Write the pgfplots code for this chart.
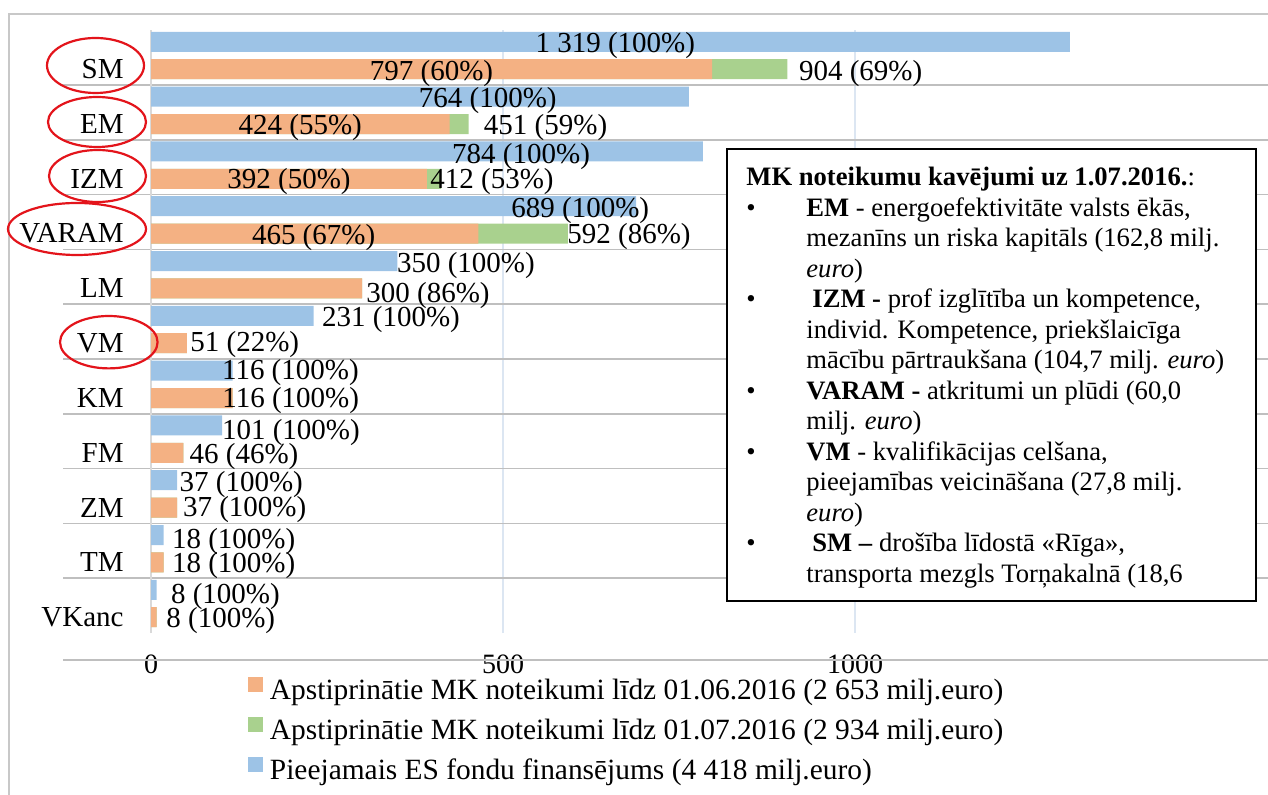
\documentclass[border=0pt]{standalone}
\usepackage{fontspec}
\setmainfont{Liberation Serif}
\usepackage{pgfplots}
\pgfplotsset{compat=1.18}
\definecolor{bblue}{HTML}{9DC3E6}
\definecolor{borange}{HTML}{F4B183}
\definecolor{bgreen}{HTML}{A9D18E}
\definecolor{sepgrey}{HTML}{BFBFBF}
\definecolor{gridblue}{HTML}{DCE6F2}
\definecolor{axgrey}{HTML}{D9D9D9}
\definecolor{framegrey}{HTML}{C8C8C8}
\definecolor{ered}{HTML}{E3141B}
\tikzset{lbl/.style={font=\fontsize{14.5pt}{17pt}\selectfont, inner sep=0pt}}
\begin{document}
\begin{tikzpicture}[x=0.5pt,y=-0.5pt]
\path[use as bounding box] (0,0) rectangle (1268,795);
\draw[framegrey, line width=0.75pt] (9,795) -- (9,14) -- (1268,14);
\begin{axis}[
  at={(31.5pt,-316.5pt)}, anchor=south west,
  scale only axis, width=602.5pt, height=301.4pt,
  xmin=-125, xmax=1586.6, ymin=-0.5, ymax=10.5,
  axis line style={draw=none}, tick style={draw=none},
  major tick length=0pt, minor tick length=0pt,
  /pgf/number format/assume math mode=true,
  xtick={500,1000}, xticklabels={500,1000},
  extra x ticks={0}, extra x tick labels={0},
  extra x tick style={grid style={draw=axgrey, line width=0.75pt}},
  xmajorgrids, grid style={draw=gridblue, line width=0.75pt},
  xticklabel style={anchor=center, yshift=-15.5pt, font=\fontsize{14pt}{16pt}\selectfont},
  ytick={9.788,8.788,7.788,6.788,5.788,4.788,3.788,2.788,1.788,0.788,-0.212},
  yticklabels={SM,EM,IZM,VARAM,LM,VM,KM,FM,ZM,TM,VKanc},
  yticklabel style={anchor=east, xshift=30.5pt, inner sep=0pt, font=\fontsize{14.5pt}{17pt}\selectfont},
  minor ytick={0.5,1.5,2.5,3.5,4.5,5.5,6.5,7.5,8.5,9.5},
  yminorgrids, minor grid style={draw=sepgrey, line width=0.75pt},
  clip=false,
  legend style={at={(axis description cs:0.1535,-0.073)}, anchor=north west,
    draw=none, fill=none, inner sep=0pt, outer sep=0pt,
    font=\fontsize{14.7pt}{17pt}\selectfont, row sep=5.5pt,
    nodes={inner sep=0pt, text height=10.5pt, text depth=3.5pt},
    /tikz/every odd column/.style={column sep=3.5pt}},
  legend cell align=left,
  legend image code/.code={\fill[#1, draw=none] (0pt,0pt) rectangle (7.5pt,7.5pt);},
]
% green: approved until 01.07.2016 (drawn under orange)
\addplot[xbar, bar width=0.365, bar shift=0pt, fill=bgreen, draw=none, forget plot] coordinates {
 (904,9.788) (451,8.788) (412,7.788) (592,6.788) (300,5.788) (51,4.788)
 (116,3.788) (46,2.788) (37,1.788) (18,0.788) (8,-0.212)};
% orange: approved until 01.06.2016
\addplot[xbar, bar width=0.365, bar shift=0pt, fill=borange, draw=none, forget plot] coordinates {
 (797,9.788) (424,8.788) (392,7.788) (465,6.788) (300,5.788) (51,4.788)
 (116,3.788) (46,2.788) (37,1.788) (18,0.788) (8,-0.212)};
% blue: available EU funds
\addplot[xbar, bar width=0.365, bar shift=0pt, fill=bblue, draw=none, forget plot] coordinates {
 (1305,10.288) (764,9.288) (784,8.288) (689,7.288) (350,6.288) (231,5.288)
 (116,4.288) (101,3.288) (37,2.288) (18,1.288) (8,0.288)};
\addlegendimage{fill=borange, draw=none}
\addlegendentry{Apstiprinātie MK noteikumi līdz 01.06.2016 (2 653 milj.euro)}
\addlegendimage{fill=bgreen, draw=none}
\addlegendentry{Apstiprinātie MK noteikumi līdz 01.07.2016 (2 934 milj.euro)}
\addlegendimage{fill=bblue, draw=none}
\addlegendentry{Pieejamais ES fondu finansējums (4 418 milj.euro)}
% data labels
\node[lbl, anchor=base] at (axis cs:659.5,10.084) {1 319 (100\%)};
\node[lbl, anchor=base] at (axis cs:398.5,9.591) {797 (60\%)};
\node[lbl, anchor=base west] at (axis cs:920,9.591) {904 (69\%)};
\node[lbl, anchor=base west] at (axis cs:380,9.086) {764 (100\%)};
\node[lbl, anchor=base] at (axis cs:212,8.600) {424 (55\%)};
\node[lbl, anchor=base west] at (axis cs:472.4,8.600) {451 (59\%)};
\node[lbl, anchor=base west] at (axis cs:427.3,8.071) {784 (100\%)};
\node[lbl, anchor=base] at (axis cs:196,7.615) {392 (50\%)};
\node[lbl, anchor=base west] at (axis cs:396.3,7.615) {412 (53\%)};
\node[lbl, anchor=base west] at (axis cs:511.4,7.08) {689 (100\%)};
\node[lbl, anchor=base] at (axis cs:231,6.593) {465 (67\%)};
\node[lbl, anchor=base west] at (axis cs:590.9,6.61) {592 (86\%)};
\node[lbl, anchor=base west] at (axis cs:349,6.084) {350 (100\%)};
\node[lbl, anchor=base west] at (axis cs:305.4,5.540) {300 (86\%)};
\node[lbl, anchor=base west] at (axis cs:242.5,5.084) {231 (100\%)};
\node[lbl, anchor=base west] at (axis cs:55.4,4.628) {51 (22\%)};
\node[lbl, anchor=base west] at (axis cs:100.4,4.117) {116 (100\%)};
\node[lbl, anchor=base west] at (axis cs:100.8,3.606) {116 (100\%)};
\node[lbl, anchor=base west] at (axis cs:100.4,3.040) {101 (100\%)};
\node[lbl, anchor=base west] at (axis cs:54.4,2.602) {46 (46\%)};
\node[lbl, anchor=base west] at (axis cs:40.2,2.073) {37 (100\%)};
\node[lbl, anchor=base west] at (axis cs:45,1.617) {37 (100\%)};
\node[lbl, anchor=base west] at (axis cs:29.4,1.051) {18 (100\%)};
\node[lbl, anchor=base west] at (axis cs:29.4,0.595) {18 (100\%)};
\node[lbl, anchor=base west] at (axis cs:28,0.047) {8 (100\%)};
\node[lbl, anchor=base west] at (axis cs:21.3,-0.391) {8 (100\%)};
\end{axis}
% bottom axis line
\draw[sepgrey, line width=0.75pt] (63,660) -- (1268,660);
% red ellipses
\begin{scope}[ered, line width=1.1pt]
\draw (95.5,65.5) ellipse [x radius=24.25pt, y radius=13.75pt];
\draw (97,122) ellipse [x radius=24.5pt, y radius=12.5pt];
\draw (97.5,176) ellipse [x radius=24.25pt, y radius=13pt];
\draw (77,229) ellipse [x radius=34.5pt, y radius=13pt];
\draw (108.8,342.2) ellipse [x radius=24.4pt, y radius=13.1pt];
\end{scope}
% text box
\draw[black, line width=1.3pt, fill=white] (727,149) rectangle (1256,601);
\node[anchor=north west, inner sep=0pt, align=left, font=\fontsize{13.3pt}{15.25pt}\selectfont] at (746,167) {%
\textbf{MK noteikumu kavējumi uz 1.07.2016.}:\\
\makebox[30pt][l]{•}\textbf{EM} - energoefektivitāte valsts ēkās,\\
\hspace*{30pt}mezanīns un riska kapitāls (162,8 milj.\\
\hspace*{30pt}\textit{euro})\\
\makebox[30pt][l]{•}\hspace*{3pt}\textbf{IZM -} prof izglītība un kompetence,\\
\hspace*{30pt}individ. Kompetence, priekšlaicīga\\
\hspace*{30pt}mācību pārtraukšana (104,7 milj. \textit{euro})\\
\makebox[30pt][l]{•}\textbf{VARAM -} atkritumi un plūdi (60,0\\
\hspace*{30pt}milj. \textit{euro})\\
\makebox[30pt][l]{•}\textbf{VM} - kvalifikācijas celšana,\\
\hspace*{30pt}pieejamības veicināšana (27,8 milj.\\
\hspace*{30pt}\textit{euro})\\
\makebox[30pt][l]{•}\hspace*{3pt}\textbf{SM –} drošība līdostā «Rīga»,\\
\hspace*{30pt}transporta mezgls Torņakalnā (18,6};
\end{tikzpicture}
\end{document}
